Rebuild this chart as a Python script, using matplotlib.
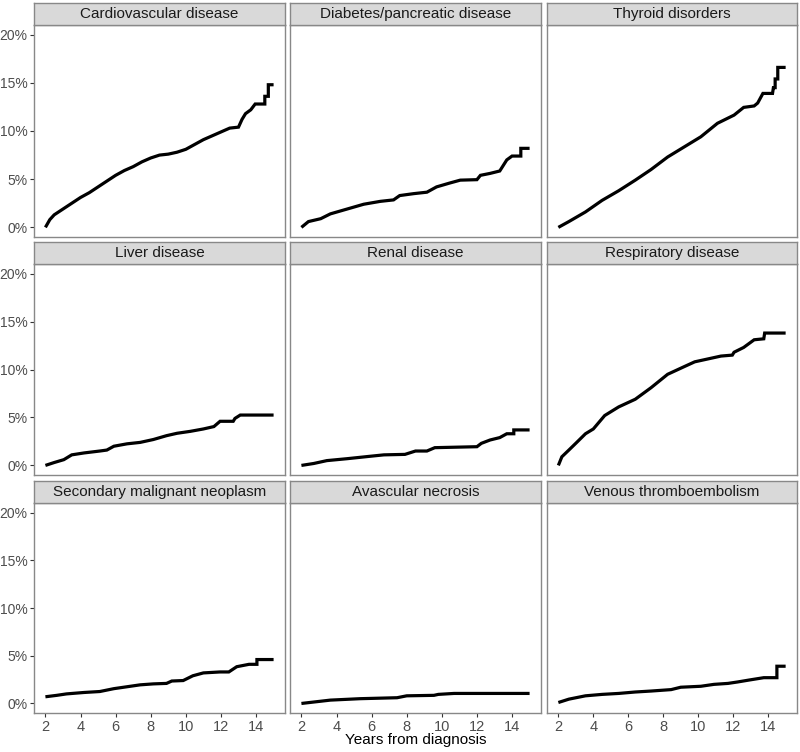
import matplotlib
matplotlib.use("Agg")
import matplotlib.pyplot as plt
from matplotlib.ticker import FuncFormatter

plt.rcParams['font.family'] = ['Liberation Sans', 'DejaVu Sans']

titles = ["Cardiovascular disease", "Diabetes/pancreatic disease", "Thyroid disorders",
          "Liver disease", "Renal disease", "Respiratory disease",
          "Secondary malignant neoplasm", "Avascular necrosis", "Venous thromboembolism"]

cardio_x = [2.0, 2.25, 2.5, 3.0, 3.5, 4.0, 4.5, 5.0, 5.5, 6.0, 6.5, 7.0, 7.5, 8.0, 8.5, 9.0, 9.5, 10.0,
            10.5, 11.0, 11.5, 12.0, 12.5, 13.0, 13.2, 13.4, 13.7, 13.95, 14.5, 14.5, 14.7, 14.7, 15.0]
cardio_y = [0, 0.8, 1.3, 1.9, 2.5, 3.1, 3.6, 4.2, 4.8, 5.4, 5.9, 6.3, 6.8, 7.2, 7.5, 7.6, 7.8, 8.1,
            8.6, 9.1, 9.5, 9.9, 10.3, 10.4, 11.2, 11.8, 12.2, 12.8, 12.8, 13.6, 13.6, 14.8, 14.8]

diab_x = [2.0, 2.4, 3.1, 3.65, 4.6, 5.55, 6.5, 7.25, 7.6, 8.4, 9.15, 9.7, 10.45, 11.05, 12.0, 12.2,
          12.75, 13.3, 13.7, 14.0, 14.5, 14.5, 15.0]
diab_y = [0, 0.6, 0.9, 1.4, 1.9, 2.4, 2.7, 2.85, 3.3, 3.5, 3.65, 4.2, 4.6, 4.9, 4.95, 5.4,
          5.6, 5.85, 7.0, 7.4, 7.4, 8.2, 8.2]

thyr_x = [2.0, 2.6, 3.55, 4.5, 5.45, 6.4, 7.3, 8.25, 9.2, 10.15, 11.1, 12.05, 12.6, 13.2, 13.4, 13.7,
          14.25, 14.3, 14.4, 14.4, 14.55, 14.55, 15.0]
thyr_y = [0, 0.6, 1.6, 2.8, 3.8, 4.9, 6.0, 7.3, 8.35, 9.4, 10.8, 11.65, 12.45, 12.6, 12.9, 13.9,
          13.9, 14.5, 14.5, 15.4, 15.4, 16.6, 16.6]

liver_x = [2.0, 2.5, 3.05, 3.5, 4.2, 5.1, 5.5, 5.9, 6.65, 7.4, 8.15, 8.9, 9.5, 10.25, 11.0, 11.6,
           11.95, 12.7, 12.8, 13.1, 15.0]
liver_y = [0, 0.3, 0.6, 1.1, 1.3, 1.5, 1.6, 2.0, 2.25, 2.4, 2.7, 3.1, 3.35, 3.55, 3.8, 4.05,
           4.6, 4.6, 4.9, 5.25, 5.25]

renal_x = [2.0, 2.7, 3.45, 4.6, 5.9, 6.7, 7.9, 8.5, 9.15, 9.6, 12.0, 12.25, 12.75, 13.3, 13.7,
           14.1, 14.1, 15.0]
renal_y = [0, 0.2, 0.5, 0.7, 0.95, 1.1, 1.15, 1.5, 1.5, 1.85, 1.95, 2.3, 2.65, 2.9, 3.3,
           3.3, 3.7, 3.7]

resp_x = [2.0, 2.2, 2.6, 3.05, 3.55, 4.0, 4.65, 5.45, 6.4, 7.3, 8.25, 9.2, 9.8, 10.55, 11.3, 11.95,
          12.05, 12.6, 13.2, 13.75, 13.8, 15.0]
resp_y = [0, 0.9, 1.6, 2.4, 3.3, 3.8, 5.2, 6.1, 6.9, 8.1, 9.5, 10.3, 10.8, 11.1, 11.4, 11.5,
          11.8, 12.3, 13.1, 13.2, 13.8, 13.8]

smn_x = [2.0, 2.65, 3.2, 4.2, 5.1, 5.9, 6.65, 7.4, 8.15, 8.9, 9.2, 9.85, 10.4, 11.0, 11.95, 12.45,
         12.9, 13.6, 14.05, 14.05, 15.0]
smn_y = [0.7, 0.85, 1.0, 1.15, 1.25, 1.55, 1.75, 1.95, 2.05, 2.1, 2.35, 2.4, 2.9, 3.2, 3.3, 3.3,
         3.85, 4.1, 4.1, 4.6, 4.6]

avn_x = [2.0, 3.65, 5.35, 7.45, 8.0, 9.55, 9.8, 10.7, 15.0]
avn_y = [0, 0.35, 0.5, 0.6, 0.8, 0.85, 0.95, 1.05, 1.05]

vte_x = [2.0, 2.6, 3.55, 4.5, 5.45, 6.4, 7.3, 8.45, 9.0, 10.15, 10.9, 11.7, 12.25, 12.9, 13.75,
         14.5, 14.5, 15.0]
vte_y = [0.1, 0.45, 0.8, 0.95, 1.05, 1.2, 1.3, 1.45, 1.7, 1.8, 2.0, 2.1, 2.25, 2.45, 2.7,
         2.7, 3.9, 3.9]

series = [(cardio_x, cardio_y), (diab_x, diab_y), (thyr_x, thyr_y),
          (liver_x, liver_y), (renal_x, renal_y), (resp_x, resp_y),
          (smn_x, smn_y), (avn_x, avn_y), (vte_x, vte_y)]

x_ticks = [2, 4, 6, 8, 10, 12, 14]
y_ticks = [0, 5, 10, 15, 20]

W, H = 800, 752
fig = plt.figure(figsize=(W / 100, H / 100), dpi=100)

cols = [(34, 285), (290, 541), (547, 797)]
rows = [(3, 25, 237), (242, 264, 475), (481, 503, 713)]

for i, (title, (xs, ys)) in enumerate(zip(titles, series)):
    r, c = divmod(i, 3)
    x0, x1 = cols[c]
    st, pt, pb = rows[r]
    ax = fig.add_axes([x0 / W, 1 - pb / H, (x1 - x0) / W, (pb - pt) / H])
    ax.plot(xs, ys, color='black', lw=2.3, solid_joinstyle='miter', solid_capstyle='butt')
    ax.set_xlim(1.35, 15.65)
    ax.set_ylim(-1.0, 21.0)
    ax.set_xticks(x_ticks)
    ax.set_yticks(y_ticks)
    ax.yaxis.set_major_formatter(FuncFormatter(lambda v, p: f"{int(v)}%"))
    for s in ax.spines.values():
        s.set_color('#888888')
        s.set_linewidth(1.0)
    ax.tick_params(axis='y', colors='#333333', labelcolor='#4D4D4D', labelsize=10,
                   length=3, width=0.8, pad=1.5)
    ax.tick_params(axis='x', colors='#333333', labelcolor='#4D4D4D', labelsize=10.5,
                   length=3, width=0.8, pad=2)
    if c != 0:
        ax.tick_params(axis='y', length=0, labelleft=False)
    if r != 2:
        ax.tick_params(axis='x', length=0, labelbottom=False)
    sax = fig.add_axes([x0 / W, 1 - pt / H, (x1 - x0) / W, (pt - st) / H])
    sax.set_xlim(0, 1)
    sax.set_ylim(0, 1)
    sax.set_xticks([])
    sax.set_yticks([])
    sax.set_facecolor('#D9D9D9')
    for s in sax.spines.values():
        s.set_color('#888888')
        s.set_linewidth(1.0)
    sax.text(0.5, 0.48, title, ha='center', va='center', fontsize=11, color='#1A1A1A')

fig.text((290 + 541) / 2 / W, 1 - 740 / H, "Years from diagnosis", ha='center', va='center',
         fontsize=11, color='black')

fig.savefig("out.png", dpi=100)
